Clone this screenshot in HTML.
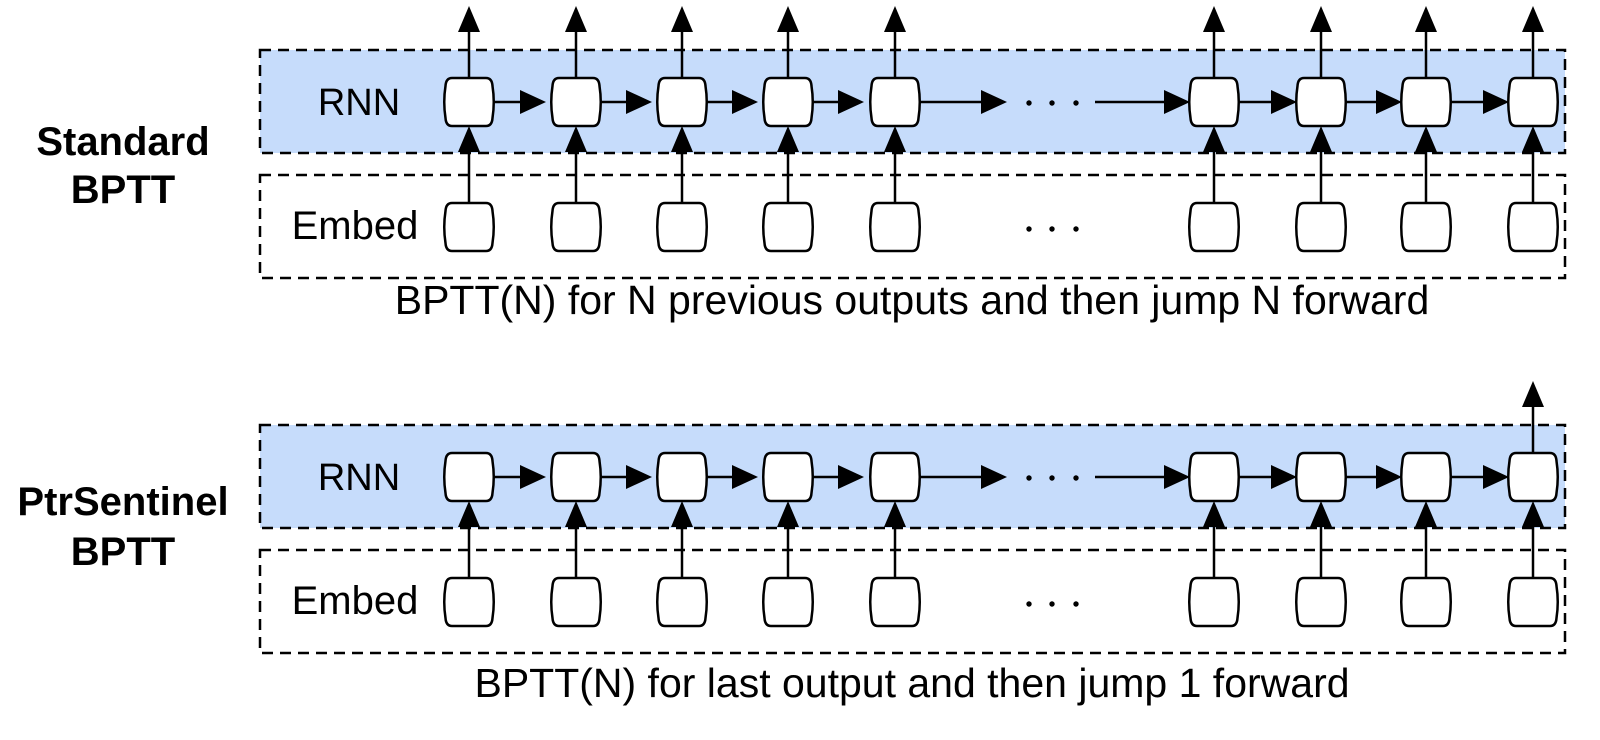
<!DOCTYPE html>
<html><head><meta charset="utf-8"><style>
html,body{margin:0;padding:0;background:#fff;}
svg text{font-family:"Liberation Sans",Arial,sans-serif;}
</style></head><body>
<svg width="1600" height="735" viewBox="0 0 1600 735" xmlns="http://www.w3.org/2000/svg">
<defs>
<g id="node"><path d="M-17,-24 H17 Q23,-24 23.5,-16 Q26,0 23.5,16 Q23,24 17,24 H-17 Q-23,24 -23.5,16 Q-26,0 -23.5,-16 Q-23,-24 -17,-24 Z" fill="#fff" stroke="#000" stroke-width="2.5"/></g>
<g id="ar"><polygon points="0,0 -26,-12 -26,12" fill="#000"/></g>
<g id="au"><polygon points="0,0 -11,26 11,26" fill="#000"/></g>
</defs>

<g id="sec">
<rect x="260" y="50" width="1305" height="103" fill="#c6dcfb" stroke="#000" stroke-width="2.5" stroke-dasharray="11,7"/>
<rect x="260" y="175" width="1305" height="103" fill="none" stroke="#000" stroke-width="2.5" stroke-dasharray="11,7"/>
<text x="359" y="115" font-size="38" text-anchor="middle">RNN</text>
<text x="355" y="239" font-size="40" text-anchor="middle">Embed</text>
<g fill="#000">
<circle cx="1029" cy="103" r="2.7"/><circle cx="1052" cy="103" r="2.7"/><circle cx="1076" cy="103" r="2.7"/>
<circle cx="1029" cy="229" r="2.7"/><circle cx="1052" cy="229" r="2.7"/><circle cx="1076" cy="229" r="2.7"/>
</g>
<g stroke="#000" stroke-width="2.5">
<line x1="493" y1="102" x2="520" y2="102"/><line x1="600" y1="102" x2="627" y2="102"/>
<line x1="706" y1="102" x2="733" y2="102"/><line x1="812" y1="102" x2="839" y2="102"/>
<line x1="919" y1="102" x2="985" y2="102"/><line x1="1095" y1="102" x2="1165" y2="102"/>
<line x1="1238" y1="102" x2="1272" y2="102"/><line x1="1345" y1="102" x2="1378" y2="102"/>
<line x1="1450" y1="102" x2="1485" y2="102"/>
</g>
<use href="#ar" x="546" y="102"/><use href="#ar" x="652" y="102"/><use href="#ar" x="758" y="102"/>
<use href="#ar" x="864" y="102"/><use href="#ar" x="1007" y="102"/><use href="#ar" x="1190" y="102"/>
<use href="#ar" x="1297" y="102"/><use href="#ar" x="1402" y="102"/><use href="#ar" x="1509" y="102"/>
</g>

<g id="cols">
<g stroke="#000" stroke-width="2.5">
<line x1="469" y1="203" x2="469" y2="140"/><line x1="576" y1="203" x2="576" y2="140"/>
<line x1="682" y1="203" x2="682" y2="140"/><line x1="788" y1="203" x2="788" y2="140"/>
<line x1="895" y1="203" x2="895" y2="140"/><line x1="1214" y1="203" x2="1214" y2="140"/>
<line x1="1321" y1="203" x2="1321" y2="140"/><line x1="1426" y1="203" x2="1426" y2="140"/>
<line x1="1533" y1="203" x2="1533" y2="140"/>
</g>
<use href="#au" x="469" y="126"/><use href="#au" x="576" y="126"/><use href="#au" x="682" y="126"/>
<use href="#au" x="788" y="126"/><use href="#au" x="895" y="126"/><use href="#au" x="1214" y="126"/>
<use href="#au" x="1321" y="126"/><use href="#au" x="1426" y="126"/><use href="#au" x="1533" y="126"/>
<use href="#node" x="469" y="102"/><use href="#node" x="576" y="102"/><use href="#node" x="682" y="102"/>
<use href="#node" x="788" y="102"/><use href="#node" x="895" y="102"/><use href="#node" x="1214" y="102"/>
<use href="#node" x="1321" y="102"/><use href="#node" x="1426" y="102"/><use href="#node" x="1533" y="102"/>
<use href="#node" x="469" y="227"/><use href="#node" x="576" y="227"/><use href="#node" x="682" y="227"/>
<use href="#node" x="788" y="227"/><use href="#node" x="895" y="227"/><use href="#node" x="1214" y="227"/>
<use href="#node" x="1321" y="227"/><use href="#node" x="1426" y="227"/><use href="#node" x="1533" y="227"/>
</g>

<g stroke="#000" stroke-width="2.5">
<line x1="469" y1="78" x2="469" y2="30"/><line x1="576" y1="78" x2="576" y2="30"/>
<line x1="682" y1="78" x2="682" y2="30"/><line x1="788" y1="78" x2="788" y2="30"/>
<line x1="895" y1="78" x2="895" y2="30"/><line x1="1214" y1="78" x2="1214" y2="30"/>
<line x1="1321" y1="78" x2="1321" y2="30"/><line x1="1426" y1="78" x2="1426" y2="30"/>
<line x1="1533" y1="78" x2="1533" y2="30"/>
</g>
<use href="#au" x="469" y="6"/><use href="#au" x="576" y="6"/><use href="#au" x="682" y="6"/>
<use href="#au" x="788" y="6"/><use href="#au" x="895" y="6"/><use href="#au" x="1214" y="6"/>
<use href="#au" x="1321" y="6"/><use href="#au" x="1426" y="6"/><use href="#au" x="1533" y="6"/>

<text x="123" y="155" font-size="40" font-weight="bold" text-anchor="middle">Standard</text>
<text x="123" y="203" font-size="40" font-weight="bold" text-anchor="middle">BPTT</text>
<text x="912" y="314" font-size="41" text-anchor="middle">BPTT(N) for N previous outputs and then jump N forward</text>

<g transform="translate(0,375)">
<use href="#sec"/>
<use href="#cols"/>
</g>
<line x1="1533" y1="453" x2="1533" y2="405" stroke="#000" stroke-width="2.5"/>
<use href="#au" x="1533" y="381"/>

<text x="123" y="515" font-size="40" font-weight="bold" text-anchor="middle">PtrSentinel</text>
<text x="123" y="565" font-size="40" font-weight="bold" text-anchor="middle">BPTT</text>
<text x="912" y="697" font-size="41" text-anchor="middle">BPTT(N) for last output and then jump 1 forward</text>
</svg>
</body></html>
